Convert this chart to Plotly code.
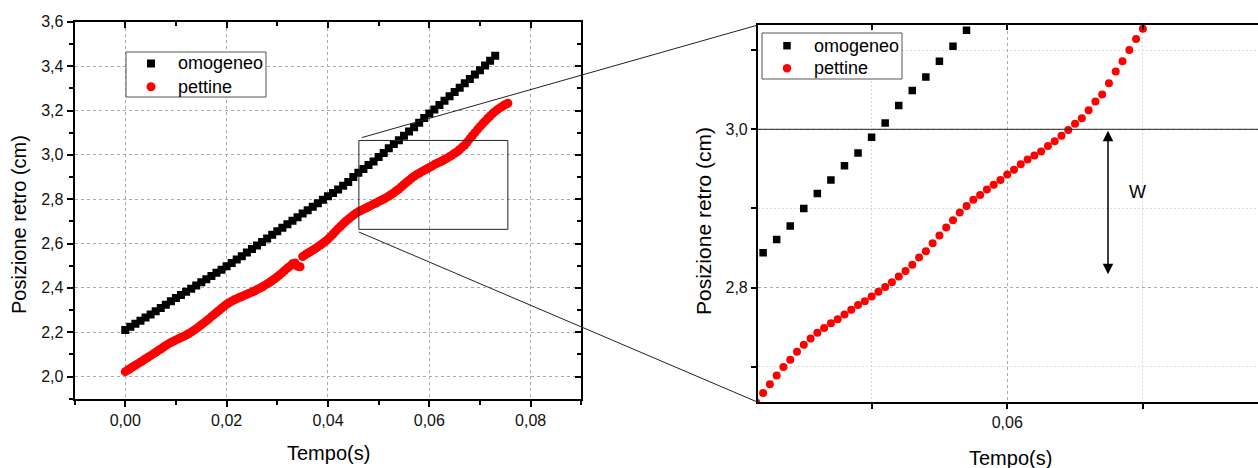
import plotly.graph_objects as go

# ---------------- data ----------------
t_omogeneo = [
    0.000, 0.001, 0.002, 0.003, 0.004, 0.005, 0.006, 0.007, 0.008, 0.009,
    0.010, 0.011, 0.012, 0.013, 0.014, 0.015, 0.016, 0.017, 0.018, 0.019,
    0.020, 0.021, 0.022, 0.023, 0.024, 0.025, 0.026, 0.027, 0.028, 0.029,
    0.030, 0.031, 0.032, 0.033, 0.034, 0.035, 0.036, 0.037, 0.038, 0.039,
    0.040, 0.041, 0.042, 0.043, 0.044, 0.045, 0.046, 0.047, 0.048, 0.049,
    0.050, 0.051, 0.052, 0.053, 0.054, 0.055, 0.056, 0.057, 0.058, 0.059,
    0.060, 0.061, 0.062, 0.063, 0.064, 0.065, 0.066, 0.067, 0.068, 0.069,
    0.070, 0.071, 0.072, 0.073,
]
pos_omogeneo = [
    2.210, 2.224, 2.238, 2.252, 2.266, 2.280, 2.295, 2.309, 2.324, 2.339,
    2.354, 2.368, 2.382, 2.396, 2.411, 2.425, 2.439, 2.453, 2.468, 2.482,
    2.497, 2.512, 2.528, 2.543, 2.559, 2.575, 2.591, 2.607, 2.623, 2.639,
    2.655, 2.671, 2.687, 2.703, 2.719, 2.735, 2.750, 2.766, 2.782, 2.797,
    2.813, 2.828, 2.844, 2.861, 2.878, 2.900, 2.919, 2.936, 2.954, 2.970,
    2.990, 3.008, 3.030, 3.049, 3.066, 3.086, 3.105, 3.125, 3.145, 3.166,
    3.186, 3.205, 3.225, 3.244, 3.264, 3.284, 3.303, 3.323, 3.342, 3.362,
    3.382, 3.403, 3.425, 3.447,
]

t_pettine = [
    0.0000, 0.0005, 0.0010, 0.0015, 0.0020, 0.0025, 0.0030, 0.0035, 0.0040, 0.0045,
    0.0050, 0.0055, 0.0060, 0.0065, 0.0070, 0.0075, 0.0080, 0.0085, 0.0090, 0.0095,
    0.0100, 0.0105, 0.0110, 0.0115, 0.0120, 0.0125, 0.0130, 0.0135, 0.0140, 0.0145,
    0.0150, 0.0155, 0.0160, 0.0165, 0.0170, 0.0175, 0.0180, 0.0185, 0.0190, 0.0195,
    0.0200, 0.0205, 0.0210, 0.0215, 0.0220, 0.0225, 0.0230, 0.0235, 0.0240, 0.0245,
    0.0250, 0.0255, 0.0260, 0.0265, 0.0270, 0.0275, 0.0280, 0.0285, 0.0290, 0.0295,
    0.0300, 0.0305, 0.0310, 0.0315, 0.0320, 0.0325, 0.0330, 0.0335, 0.0340, 0.0345,
    0.0350, 0.0355, 0.0360, 0.0365, 0.0370, 0.0375, 0.0380, 0.0385, 0.0390, 0.0395,
    0.0400, 0.0405, 0.0410, 0.0415, 0.0420, 0.0425, 0.0430, 0.0435, 0.0440, 0.0445,
    0.0450, 0.0455, 0.0460, 0.0465, 0.0470, 0.0475, 0.0480, 0.0485, 0.0490, 0.0495,
    0.0500, 0.0505, 0.0510, 0.0515, 0.0520, 0.0525, 0.0530, 0.0535, 0.0540, 0.0545,
    0.0550, 0.0555, 0.0560, 0.0565, 0.0570, 0.0575, 0.0580, 0.0585, 0.0590, 0.0595,
    0.0600, 0.0605, 0.0610, 0.0615, 0.0620, 0.0625, 0.0630, 0.0635, 0.0640, 0.0645,
    0.0650, 0.0655, 0.0660, 0.0665, 0.0670, 0.0675, 0.0680, 0.0685, 0.0690, 0.0695,
    0.0700, 0.0705, 0.0710, 0.0715, 0.0720, 0.0725, 0.0730, 0.0735, 0.0740, 0.0745,
    0.0750, 0.0755,
]
pos_pettine = [
    2.022, 2.029, 2.036, 2.044, 2.051, 2.058, 2.065, 2.072, 2.080, 2.087,
    2.094, 2.102, 2.109, 2.117, 2.124, 2.132, 2.140, 2.147, 2.153, 2.159,
    2.165, 2.170, 2.176, 2.181, 2.187, 2.193, 2.200, 2.208, 2.216, 2.224,
    2.233, 2.242, 2.251, 2.260, 2.270, 2.279, 2.289, 2.298, 2.308, 2.317,
    2.326, 2.333, 2.340, 2.346, 2.351, 2.356, 2.361, 2.366, 2.371, 2.376,
    2.381, 2.386, 2.392, 2.398, 2.404, 2.411, 2.418, 2.425, 2.433, 2.441,
    2.450, 2.459, 2.469, 2.479, 2.489, 2.498, 2.509, 2.512, 2.497, 2.495,
    2.541, 2.549, 2.556, 2.563, 2.570, 2.577, 2.585, 2.593, 2.601, 2.610,
    2.620, 2.631, 2.643, 2.655, 2.667, 2.678, 2.689, 2.700, 2.709, 2.719,
    2.728, 2.736, 2.743, 2.749, 2.755, 2.760, 2.766, 2.772, 2.778, 2.783,
    2.789, 2.795, 2.801, 2.807, 2.814, 2.821, 2.829, 2.838, 2.846, 2.856,
    2.866, 2.876, 2.885, 2.895, 2.903, 2.911, 2.917, 2.924, 2.930, 2.936,
    2.943, 2.949, 2.956, 2.962, 2.967, 2.972, 2.979, 2.985, 2.992, 2.999,
    3.007, 3.014, 3.024, 3.035, 3.044, 3.058, 3.073, 3.086, 3.100, 3.114,
    3.127, 3.140, 3.152, 3.164, 3.175, 3.186, 3.196, 3.205, 3.213, 3.220,
    3.227, 3.233,
]

series_names = ["omogeneo", "pettine"]
x_title = "Tempo(s)"
y_title = "Posizione retro (cm)"
w_label = "W"

# ---------------- layout geometry ----------------
FONT = "Liberation Sans, Arial, sans-serif"
W_PX, H_PX = 1258, 468
XD1, XR1 = [0.0593, 0.4621], [-0.01, 0.09]
YD1, YR1 = [0.1481, 0.9538], [1.9, 3.601]
XD2, XR2 = [0.6025, 1.0], [0.04162, 0.07849]
YD2, YR2 = [0.1404, 0.9466], [2.6553, 3.1317]

RECT_X, RECT_Y = [0.0461, 0.0755], [2.664, 3.065]
W_LEVEL, W_LOW, W_X = 3.0, 2.817, 0.06743

MARKER_SQ = "black"
MARKER_CI = "#ff0000"


def px2paper(px, py):
    return px / W_PX, 1 - py / H_PX


def to_paper(xv, yv, xd, xr, yd, yr):
    px = xd[0] + (xv - xr[0]) / (xr[1] - xr[0]) * (xd[1] - xd[0])
    py = yd[0] + (yv - yr[0]) / (yr[1] - yr[0]) * (yd[1] - yd[0])
    return px, py


fig = go.Figure()

# left panel
fig.add_trace(go.Scatter(x=t_omogeneo, y=pos_omogeneo, mode="markers", name=series_names[0],
                         marker=dict(symbol="square", size=8, color=MARKER_SQ),
                         xaxis="x", yaxis="y", showlegend=False))
fig.add_trace(go.Scatter(x=t_pettine, y=pos_pettine, mode="markers", name=series_names[1],
                         marker=dict(symbol="circle", size=9, color=MARKER_CI),
                         xaxis="x", yaxis="y", showlegend=False))
# right (zoomed) panel
fig.add_trace(go.Scatter(x=t_omogeneo, y=pos_omogeneo, mode="markers", name=series_names[0],
                         marker=dict(symbol="square", size=7.5, color=MARKER_SQ),
                         xaxis="x2", yaxis="y2", showlegend=False))
fig.add_trace(go.Scatter(x=t_pettine, y=pos_pettine, mode="markers", name=series_names[1],
                         marker=dict(symbol="circle", size=8, color=MARKER_CI),
                         xaxis="x2", yaxis="y2", showlegend=False))
# empty traces for mirrored (inward-tick) axes
fig.add_trace(go.Scatter(x=[], y=[], xaxis="x3", yaxis="y3", showlegend=False, hoverinfo="skip"))
fig.add_trace(go.Scatter(x=[], y=[], xaxis="x4", yaxis="y2", showlegend=False, hoverinfo="skip"))

grid_major = dict(showgrid=True, gridcolor="#aaaaaa", griddash="3px,3px", gridwidth=1)
axis_common = dict(showline=True, linecolor="black", linewidth=2, zeroline=False, automargin=False,
                   tickcolor="black", tickwidth=1.5, tickfont=dict(family=FONT, size=16, color="#111"))

fig.update_layout(
    width=W_PX, height=H_PX, autosize=False,
    margin=dict(l=0, r=0, t=0, b=0, pad=0),
    paper_bgcolor="white", plot_bgcolor="white",
    separators=",.",
    showlegend=False,
    font=dict(family=FONT, color="black"),
    xaxis=dict(domain=XD1, range=XR1, anchor="y", ticks="outside", ticklen=6,
               tick0=0, dtick=0.02, tickformat=".2f",
               minor=dict(dtick=0.01, ticks="outside", ticklen=4, tickcolor="black", showgrid=False),
               **grid_major, **axis_common),
    yaxis=dict(domain=YD1, range=YR1, anchor="x", ticks="outside", ticklen=6,
               tick0=2.0, dtick=0.2, tickformat=".1f",
               minor=dict(dtick=0.1, ticks="outside", ticklen=4, tickcolor="black", showgrid=False),
               **grid_major, **axis_common),
    xaxis3=dict(overlaying="x", side="top", anchor="y3", range=XR1, ticks="inside", ticklen=6,
                tick0=0, dtick=0.02, showticklabels=False, showgrid=False,
                minor=dict(dtick=0.01, ticks="inside", ticklen=4, tickcolor="black"),
                **axis_common),
    yaxis3=dict(overlaying="y", side="right", anchor="x3", range=YR1, ticks="inside", ticklen=6,
                tick0=2.0, dtick=0.2, showticklabels=False, showgrid=False,
                minor=dict(dtick=0.1, ticks="inside", ticklen=4, tickcolor="black"),
                **axis_common),
    xaxis2=dict(domain=XD2, range=XR2, anchor="y2", ticks="outside", ticklen=5,
                tick0=0, dtick=0.02, tickformat=".2f",
                minor=dict(dtick=0.01, ticks="outside", ticklen=5, tickcolor="black",
                           showgrid=True, gridcolor="#d5d5d5", griddash="2px,2px"),
                **grid_major, **axis_common),
    yaxis2=dict(domain=YD2, range=YR2, anchor="x2", ticks="outside", ticklen=5,
                tick0=2.0, dtick=0.2, tickformat=".1f",
                minor=dict(dtick=0.1, ticks="outside", ticklen=5, tickcolor="black",
                           showgrid=True, gridcolor="#dddddd", griddash="2px,2px"),
                **grid_major, **axis_common),
    xaxis4=dict(overlaying="x2", side="top", anchor="y2", range=XR2, ticks="inside", ticklen=5,
                tick0=0, dtick=0.02, showticklabels=False, showgrid=False,
                minor=dict(dtick=0.01, ticks="inside", ticklen=5, tickcolor="black"),
                **axis_common),
)

shapes = []
annotations = []

# zoom rectangle and connecting lines
shapes.append(dict(type="rect", xref="x", yref="y", x0=RECT_X[0], x1=RECT_X[1],
                   y0=RECT_Y[0], y1=RECT_Y[1], line=dict(color="#222", width=1)))
ux, uy = to_paper(0.0467, 3.078, XD1, XR1, YD1, YR1)
lx, ly = to_paper(RECT_X[0], 2.652, XD1, XR1, YD1, YR1)
shapes.append(dict(type="line", xref="paper", yref="paper", x0=ux, y0=uy, x1=XD2[0], y1=YD2[1],
                   line=dict(color="#222", width=1)))
shapes.append(dict(type="line", xref="paper", yref="paper", x0=lx, y0=ly, x1=XD2[0], y1=YD2[0],
                   line=dict(color="#222", width=1)))
# horizontal reference line in zoom panel
shapes.append(dict(type="line", xref="x2 domain", yref="y2", x0=0, x1=1, y0=W_LEVEL, y1=W_LEVEL,
                   line=dict(color="#222", width=1)))


# hand-placed legends (box, symbols, labels)
def add_legend(box, sym_x, rows, text_x, sq_size, ci_size):
    bx0, by0 = px2paper(box[0], box[3])
    bx1, by1 = px2paper(box[2], box[1])
    shapes.append(dict(type="rect", xref="paper", yref="paper", x0=bx0, x1=bx1, y0=by0, y1=by1,
                       fillcolor="white", line=dict(color="#555", width=1), layer="above"))
    for i, (name, sym, size) in enumerate(zip(series_names, ["rect", "circle"], [sq_size, ci_size])):
        ax_, ay_ = px2paper(sym_x, rows[i])
        color = MARKER_SQ if sym == "rect" else MARKER_CI
        shapes.append(dict(type=sym, xref="paper", yref="paper", xsizemode="pixel", ysizemode="pixel",
                           xanchor=ax_, yanchor=ay_, x0=-size / 2, x1=size / 2,
                           y0=-size / 2, y1=size / 2, fillcolor=color, line=dict(width=0),
                           layer="above"))
        tx, ty = px2paper(text_x, rows[i])
        annotations.append(dict(x=tx, y=ty, xref="paper", yref="paper", xanchor="left",
                                yanchor="middle", text=name, showarrow=False,
                                font=dict(family=FONT, size=18, color="black")))


add_legend((126, 52, 266, 97), 151, (63.5, 86.7), 176, 8, 9)
add_legend((762, 33, 902, 79), 787, (45.7, 68.3), 812, 7.5, 8.5)

annotations += [
    dict(x=W_X, y=W_LOW, ax=W_X, ay=W_LEVEL, xref="x2", yref="y2", axref="x2", ayref="y2",
         text="", showarrow=True, arrowhead=2, arrowside="end+start", arrowsize=1.4,
         arrowwidth=1.5, arrowcolor="black"),
    dict(x=0.06964, y=2.921, xref="x2", yref="y2", text=w_label, showarrow=False,
         xanchor="center", yanchor="middle", font=dict(family=FONT, size=18, color="black")),
]
for (cx, cy, txt, ang, sz) in [(19, 225, y_title, -90, 20), (328, 453, x_title, 0, 20),
                               (703, 221, y_title, -90, 21), (1010, 458, x_title, 0, 20)]:
    px_, py_ = px2paper(cx, cy)
    annotations.append(dict(x=px_, y=py_, xref="paper", yref="paper", text=txt, textangle=ang,
                            xanchor="center", yanchor="middle", showarrow=False,
                            font=dict(family=FONT, size=sz, color="black")))

fig.update_layout(shapes=shapes, annotations=annotations)

fig.write_html("out.html")
